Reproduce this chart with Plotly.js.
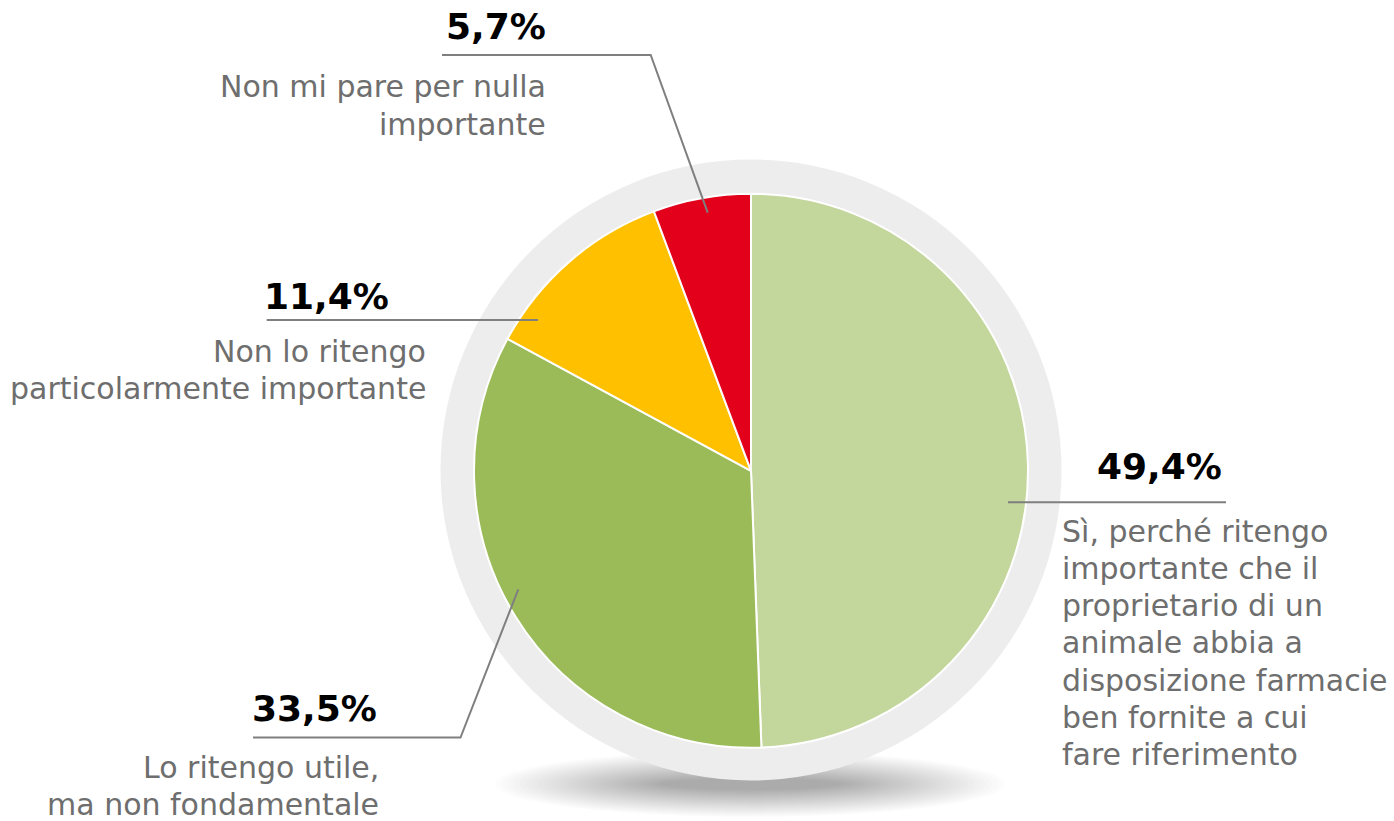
<!DOCTYPE html>
<html>
<head>
<meta charset="utf-8">
<script src="https://cdn.plot.ly/plotly-3.0.1.min.js"></script>
<style>
  html, body { margin: 0; padding: 0; background: #ffffff; }
  #chart { width: 1394px; height: 821px; }
</style>
</head>
<body>
<div id="chart"></div>
<script>
// ---------- DATA ----------
const categories = [
  "Sì, perché ritengo importante che il proprietario di un animale abbia a disposizione farmacie ben fornite a cui fare riferimento",
  "Lo ritengo utile, ma non fondamentale",
  "Non lo ritengo particolarmente importante",
  "Non mi pare per nulla importante"
];
const values = [49.4, 33.5, 11.4, 5.7];
const labelLines = [
  ["Sì, perché ritengo", "importante che il", "proprietario di un", "animale abbia a", "disposizione farmacie", "ben fornite a cui", "fare riferimento"],
  ["Lo ritengo utile,", "ma non fondamentale"],
  ["Non lo ritengo", "particolarmente importante"],
  ["Non mi pare per nulla", "importante"]
];
const sliceColors = ["#C3D69B", "#9BBB59", "#FFC000", "#E2001A"];

// ---------- LAYOUT HELPERS (pixel -> paper) ----------
const W = 1394, H = 821;
const fx = x => x / W;
const fy = y => 1 - y / H;

const pieCx = 751, pieCy = 470.8, pieR = 277;
const ringCx = 751, ringCy = 470, ringR = 310.5;

const fontFamily = "DejaVu Sans, Verdana, sans-serif";
const pctSize = 36, txtSize = 30;
const pctColor = "#000000", txtColor = "#6E6E6E", leaderColor = "#7F7F7F";

// label placement per slice (layout only)
const place = [
  { pctX: 1223, pctBase: 479.3, pctAnchor: "right", txtX: 1061, txtBase: 541.7, txtAnchor: "left", lineGap: 37.2,
    leader: [[1008, 502.3], [1226, 502.3]] },
  { pctX: 377.5, pctBase: 720.7, pctAnchor: "right", txtX: 380, txtBase: 778.3, txtAnchor: "right", lineGap: 36.7,
    leader: [[253, 737.5], [460.5, 737.5], [518.3, 589.3]] },
  { pctX: 389.5, pctBase: 309.3, pctAnchor: "right", txtX: 426.7, txtBase: 361.7, txtAnchor: "right", lineGap: 36.7,
    leader: [[266.7, 320], [538, 320]] },
  { pctX: 546.7, pctBase: 39.3, pctAnchor: "right", txtX: 546.7, txtBase: 97.3, txtAnchor: "right", lineGap: 37.7,
    leader: [[442, 55], [650.7, 55], [707.7, 212.7]] }
];

const fmtPct = v => v.toFixed(1).replace(".", ",") + "%";

const annotations = [];
const shapes = [];

// soft shadow under the ring (many stacked translucent ellipses)
const shCx = 750, shCy = 784, nSh = 28;
for (let i = 0; i < nSh; i++) {
  const t = i / (nSh - 1);
  const rx = 255 - 165 * t, ry = 33 - 27 * t;
  shapes.push({
    type: "circle", xref: "paper", yref: "paper", layer: "below",
    x0: fx(shCx - rx), x1: fx(shCx + rx), y0: fy(shCy + ry), y1: fy(shCy - ry),
    fillcolor: "rgba(0,0,0,0.013)", line: { width: 0 }
  });
}
// grey ring behind the pie
shapes.push({
  type: "circle", xref: "paper", yref: "paper", layer: "below",
  x0: fx(ringCx - ringR), x1: fx(ringCx + ringR), y0: fy(ringCy + ringR), y1: fy(ringCy - ringR),
  fillcolor: "#EDEDED", line: { width: 0 }
});

values.forEach((v, i) => {
  const p = place[i];
  // leader line
  const path = p.leader.map((pt, k) => (k ? "L" : "M") + fx(pt[0]) + "," + fy(pt[1])).join(" ");
  shapes.push({ type: "path", xref: "paper", yref: "paper", layer: "above", path: path,
    line: { color: leaderColor, width: 2 } });
  // percentage
  annotations.push({
    xref: "paper", yref: "paper", x: fx(p.pctX), y: fy(p.pctBase - 0.346 * pctSize),
    xanchor: p.pctAnchor, yanchor: "middle", showarrow: false, borderpad: 0,
    text: fmtPct(v), font: { family: fontFamily, size: pctSize, color: pctColor, weight: 700 }
  });
  // description lines
  labelLines[i].forEach((ln, k) => {
    annotations.push({
      xref: "paper", yref: "paper", x: fx(p.txtX), y: fy(p.txtBase + k * p.lineGap - 0.346 * txtSize),
      xanchor: p.txtAnchor, yanchor: "middle", showarrow: false, borderpad: 0,
      text: ln, font: { family: fontFamily, size: txtSize, color: txtColor }
    });
  });
});

const trace = {
  type: "pie",
  labels: categories,
  values: values,
  sort: false,
  direction: "clockwise",
  rotation: 0,
  textinfo: "none",
  hoverinfo: "label+percent",
  showlegend: false,
  marker: { colors: sliceColors, line: { color: "#FFFFFF", width: 2 } },
  domain: { x: [fx(pieCx - pieR), fx(pieCx + pieR)], y: [fy(pieCy + pieR), fy(pieCy - pieR)] }
};

const layout = {
  width: W, height: H,
  margin: { l: 0, r: 0, t: 0, b: 0, pad: 0 },
  paper_bgcolor: "#FFFFFF",
  plot_bgcolor: "#FFFFFF",
  showlegend: false,
  shapes: shapes,
  annotations: annotations
};

Plotly.newPlot("chart", [trace], layout, { displayModeBar: false, staticPlot: true });
</script>
</body>
</html>
